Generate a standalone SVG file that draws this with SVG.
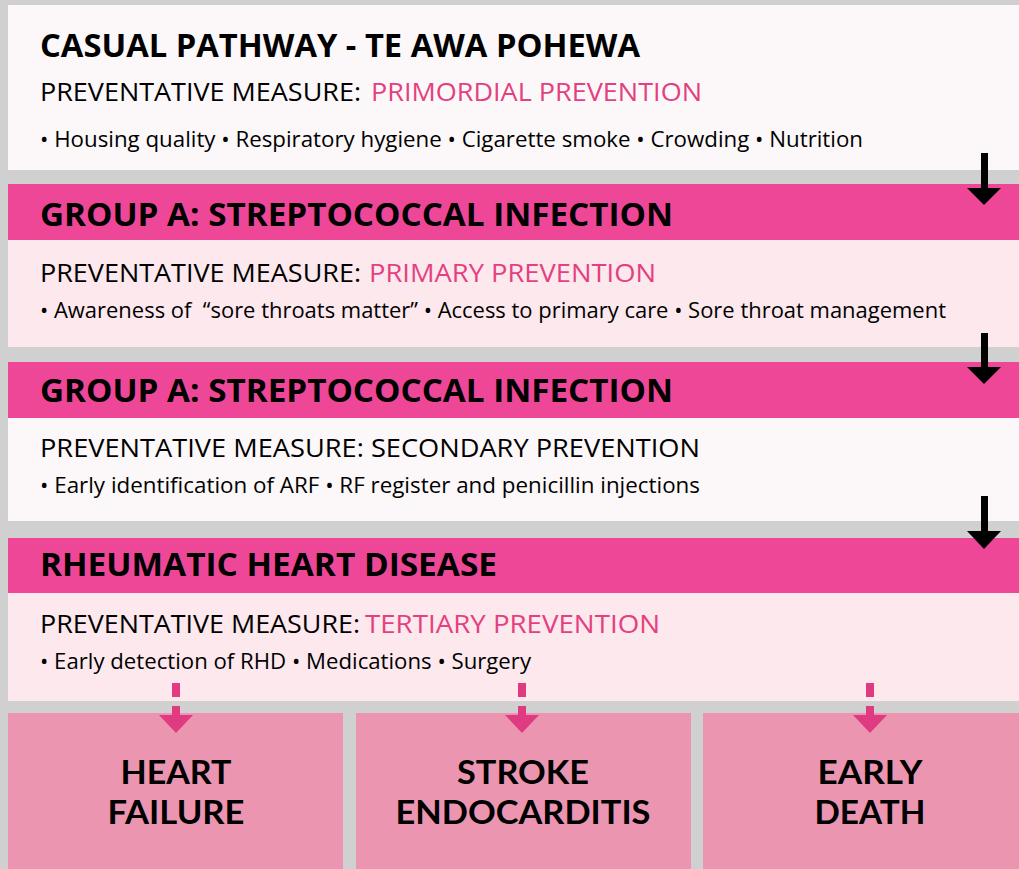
<svg xmlns="http://www.w3.org/2000/svg" width="1019" height="869" viewBox="0 0 1019 869">
<style>
text{font-family:"Open Sans","Noto Sans","Liberation Sans",sans-serif;fill:#000}
.title{font-size:33px;font-weight:bold}
.hdr{font-size:32px;font-weight:bold}
.pm{font-size:26px}
.pink{fill:#e4407f}
.bul{font-size:22px}
.out{font-family:Lato,"Open Sans","Liberation Sans",sans-serif;font-size:32.5px;font-weight:bold;text-anchor:middle}
.white{fill:#fcf8f9}
.light{fill:#fce8ed}
.band{fill:#ef4798}
.box{fill:#ec95b0}
.blk{fill:#000}
.dash{fill:#e03a80}
</style>
<rect width="1019" height="869" fill="#d0d0d0"/>
<g id="primordial">
<rect class="white" x="8" y="5" width="1011" height="165"/>
<text class="title" x="40" y="57" textLength="600" lengthAdjust="spacingAndGlyphs">CASUAL PATHWAY - TE AWA POHEWA</text>
<text class="pm" x="40" y="101" textLength="321" lengthAdjust="spacingAndGlyphs">PREVENTATIVE MEASURE:</text>
<text class="pm pink" x="371" y="101" textLength="331" lengthAdjust="spacingAndGlyphs">PRIMORDIAL PREVENTION</text>
<text class="bul" x="40" y="147" textLength="823" lengthAdjust="spacingAndGlyphs">• Housing quality • Respiratory hygiene • Cigarette smoke • Crowding • Nutrition</text>
</g>
<g id="gas-primary">
<rect class="band" x="8" y="184" width="1011" height="56"/>
<rect class="light" x="8" y="240" width="1011" height="107"/>
<text class="hdr" x="40" y="226" textLength="633" lengthAdjust="spacingAndGlyphs">GROUP A: STREPTOCOCCAL INFECTION</text>
<text class="pm" x="40" y="282" textLength="321" lengthAdjust="spacingAndGlyphs">PREVENTATIVE MEASURE:</text>
<text class="pm pink" x="369" y="282" textLength="287" lengthAdjust="spacingAndGlyphs">PRIMARY PREVENTION</text>
<text class="bul" x="40" y="318" textLength="906" lengthAdjust="spacingAndGlyphs">• Awareness of&#160; “sore throats matter” • Access to primary care • Sore throat management</text>
</g>
<g id="gas-secondary">
<rect class="band" x="8" y="362" width="1011" height="56"/>
<rect class="white" x="8" y="418" width="1011" height="103"/>
<text class="hdr" x="40" y="402" textLength="633" lengthAdjust="spacingAndGlyphs">GROUP A: STREPTOCOCCAL INFECTION</text>
<text class="pm" x="40" y="457" textLength="660" lengthAdjust="spacingAndGlyphs">PREVENTATIVE MEASURE: SECONDARY PREVENTION</text>
<text class="bul" x="40" y="493" textLength="660" lengthAdjust="spacingAndGlyphs">• Early identification of ARF • RF register and penicillin injections</text>
</g>
<g id="rhd-tertiary">
<rect class="band" x="8" y="538" width="1011" height="55"/>
<rect class="light" x="8" y="593" width="1011" height="108"/>
<text class="hdr" x="40" y="576" textLength="457" lengthAdjust="spacingAndGlyphs">RHEUMATIC HEART DISEASE</text>
<text class="pm" x="40" y="633" textLength="320" lengthAdjust="spacingAndGlyphs">PREVENTATIVE MEASURE:</text>
<text class="pm pink" x="365" y="633" textLength="295" lengthAdjust="spacingAndGlyphs">TERTIARY PREVENTION</text>
<text class="bul" x="40" y="669" textLength="491" lengthAdjust="spacingAndGlyphs">• Early detection of RHD • Medications • Surgery</text>
</g>
<g id="heart-failure">
<rect class="box" x="8" y="713" width="335" height="156"/>
<text class="out" x="176" y="784"><tspan x="176" y="784" textLength="111" lengthAdjust="spacingAndGlyphs">HEART</tspan><tspan x="176" y="824" textLength="137" lengthAdjust="spacingAndGlyphs">FAILURE</tspan></text>
</g>
<g id="stroke-endocarditis">
<rect class="box" x="356" y="713" width="335" height="156"/>
<text class="out" x="523" y="784"><tspan x="523" y="784" textLength="132" lengthAdjust="spacingAndGlyphs">STROKE</tspan><tspan x="523" y="824" textLength="255" lengthAdjust="spacingAndGlyphs">ENDOCARDITIS</tspan></text>
</g>
<g id="early-death">
<rect class="box" x="703" y="713" width="316" height="156"/>
<text class="out" x="870" y="784"><tspan x="870" y="784" textLength="105" lengthAdjust="spacingAndGlyphs">EARLY</tspan><tspan x="870" y="824" textLength="111" lengthAdjust="spacingAndGlyphs">DEATH</tspan></text>
</g>
<g id="connectors">
<rect class="blk" x="981" y="153" width="7" height="36"/>
<polygon class="blk" points="967,188 1001,188 984,205"/>
<rect class="blk" x="981" y="333" width="7" height="35"/>
<polygon class="blk" points="967,367 1001,367 984,384"/>
<rect class="blk" x="981" y="496" width="7" height="36"/>
<polygon class="blk" points="967,531 1001,531 984,549"/>
<rect class="dash" x="172" y="683" width="8" height="14"/>
<rect class="dash" x="172" y="706" width="8" height="10"/>
<polygon class="dash" points="159,715 193,715 176,733"/>
<rect class="dash" x="518" y="683" width="8" height="14"/>
<rect class="dash" x="518" y="706" width="8" height="10"/>
<polygon class="dash" points="505,715 539,715 522,733"/>
<rect class="dash" x="866" y="683" width="8" height="14"/>
<rect class="dash" x="866" y="706" width="8" height="10"/>
<polygon class="dash" points="853,715 887,715 870,733"/>
</g>
</svg>
